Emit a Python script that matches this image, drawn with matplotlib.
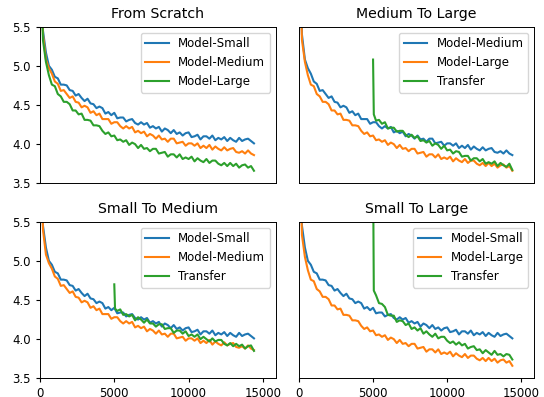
import numpy as np
import matplotlib
matplotlib.use('Agg')
import matplotlib.pyplot as plt

# the reference looks like a scaled-down default figure
plt.rcParams['font.size'] = 8.5
plt.rcParams['axes.titlesize'] = 10.2
plt.rcParams['lines.linewidth'] = 1.5
plt.rcParams['xtick.major.size'] = 3
plt.rcParams['ytick.major.size'] = 3
plt.rcParams['axes.linewidth'] = 0.7

# training steps (logged every 200 steps)
steps = np.arange(0, 14600, 200)
# transfer runs start at step 5000
steps_tr = np.r_[5000, 5050, np.arange(5200, 14600, 200)]

# loss curves
loss_small = [6.90, 5.45, 5.17, 5.00, 4.95, 4.86, 4.84, 4.76, 4.76, 4.75,
              4.69, 4.68, 4.62, 4.64, 4.59, 4.55, 4.58, 4.52, 4.51, 4.46,
              4.48, 4.46, 4.39, 4.41, 4.37, 4.40, 4.33, 4.34, 4.34, 4.29,
              4.31, 4.32, 4.27, 4.25, 4.28, 4.25, 4.27, 4.21, 4.23, 4.20,
              4.22, 4.16, 4.20, 4.18, 4.14, 4.18, 4.13, 4.15, 4.11, 4.14,
              4.15, 4.09, 4.10, 4.12, 4.06, 4.10, 4.10, 4.07, 4.11, 4.05,
              4.08, 4.06, 4.09, 4.04, 4.08, 4.05, 4.03, 4.08, 4.04, 4.06,
              4.07, 4.04, 4.01]

loss_medium = [6.85, 5.40, 5.08, 4.97, 4.90, 4.80, 4.77, 4.68, 4.69, 4.64,
               4.59, 4.61, 4.54, 4.53, 4.47, 4.49, 4.47, 4.40, 4.42, 4.37,
               4.39, 4.32, 4.32, 4.32, 4.26, 4.28, 4.28, 4.23, 4.20, 4.23,
               4.20, 4.22, 4.15, 4.17, 4.14, 4.16, 4.10, 4.13, 4.11, 4.07,
               4.11, 4.06, 4.07, 4.03, 4.07, 4.07, 4.01, 4.02, 4.03, 3.98,
               4.01, 4.01, 3.98, 4.01, 3.95, 3.98, 3.95, 3.99, 3.93, 3.97,
               3.94, 3.92, 3.96, 3.92, 3.94, 3.95, 3.90, 3.89, 3.91, 3.88,
               3.92, 3.88, 3.86]

loss_large = [6.80, 5.33, 5.05, 4.88, 4.76, 4.74, 4.64, 4.61, 4.54, 4.54,
              4.51, 4.43, 4.43, 4.38, 4.39, 4.31, 4.31, 4.30, 4.24, 4.24,
              4.23, 4.17, 4.13, 4.15, 4.10, 4.11, 4.05, 4.06, 4.03, 4.05,
              3.99, 4.02, 4.00, 3.95, 3.99, 3.94, 3.95, 3.91, 3.94, 3.94,
              3.88, 3.89, 3.90, 3.84, 3.87, 3.87, 3.83, 3.87, 3.81, 3.83,
              3.81, 3.84, 3.78, 3.82, 3.79, 3.77, 3.81, 3.76, 3.79, 3.79,
              3.75, 3.73, 3.76, 3.72, 3.76, 3.72, 3.75, 3.70, 3.73, 3.74,
              3.70, 3.72, 3.66]

tr_med_to_large = [5.08, 4.38, 4.30, 4.31, 4.26, 4.28, 4.20, 4.21, 4.21, 4.16,
                   4.17, 4.17, 4.12, 4.09, 4.12, 4.08, 4.10, 4.04, 4.05, 4.02,
                   4.04, 3.98, 4.01, 3.99, 3.94, 3.98, 3.92, 3.93, 3.88, 3.91,
                   3.90, 3.84, 3.85, 3.85, 3.79, 3.82, 3.82, 3.78, 3.81, 3.75,
                   3.77, 3.75, 3.78, 3.72, 3.76, 3.73, 3.71, 3.75, 3.67]

tr_small_to_med = [4.70, 4.39, 4.36, 4.38, 4.31, 4.32, 4.29, 4.31, 4.24, 4.28,
                   4.25, 4.21, 4.25, 4.20, 4.20, 4.16, 4.19, 4.19, 4.13, 4.14,
                   4.14, 4.08, 4.11, 4.11, 4.07, 4.10, 4.04, 4.06, 4.03, 4.06,
                   4.00, 4.03, 4.00, 3.97, 4.01, 3.97, 3.99, 3.99, 3.94, 3.92,
                   3.95, 3.91, 3.94, 3.91, 3.93, 3.88, 3.91, 3.92, 3.85]

tr_small_to_large = [6.20, 4.62, 4.56, 4.46, 4.45, 4.41, 4.31, 4.30, 4.30, 4.22,
                     4.24, 4.23, 4.18, 4.20, 4.13, 4.15, 4.11, 4.14, 4.07, 4.10,
                     4.06, 4.03, 4.07, 4.01, 4.03, 4.03, 3.98, 3.95, 3.97, 3.93,
                     3.96, 3.92, 3.94, 3.88, 3.90, 3.91, 3.86, 3.87, 3.82, 3.86,
                     3.83, 3.80, 3.85, 3.80, 3.81, 3.78, 3.81, 3.80, 3.74]

fig = plt.figure(figsize=(5.44, 3.97), dpi=100)

# axes placed to match the reference layout
ax_tl = fig.add_axes([0.0735, 0.5383, 0.4338, 0.3945])
ax_tr = fig.add_axes([0.5496, 0.5383, 0.4325, 0.3945])
ax_bl = fig.add_axes([0.0735, 0.0471, 0.4338, 0.3945])
ax_br = fig.add_axes([0.5496, 0.0471, 0.4325, 0.3945])

# From Scratch
ax_tl.plot(steps, loss_small, label='Model-Small')
ax_tl.plot(steps, loss_medium, label='Model-Medium')
ax_tl.plot(steps, loss_large, label='Model-Large')
ax_tl.set_title('From Scratch')

# Medium To Large
ax_tr.plot(steps, loss_medium, label='Model-Medium')
ax_tr.plot(steps, loss_large, label='Model-Large')
ax_tr.plot(steps_tr, tr_med_to_large, label='Transfer')
ax_tr.set_title('Medium To Large')

# Small To Medium
ax_bl.plot(steps, loss_small, label='Model-Small')
ax_bl.plot(steps, loss_medium, label='Model-Medium')
ax_bl.plot(steps_tr, tr_small_to_med, label='Transfer')
ax_bl.set_title('Small To Medium')

# Small To Large
ax_br.plot(steps, loss_small, label='Model-Small')
ax_br.plot(steps, loss_large, label='Model-Large')
ax_br.plot(steps_tr, tr_small_to_large, label='Transfer')
ax_br.set_title('Small To Large')

for ax in [ax_tl, ax_tr, ax_bl, ax_br]:
    ax.set_xlim(0, 15880)
    ax.set_ylim(3.5, 5.5)
    ax.set_xticks([0, 5000, 10000, 15000])
    ax.set_yticks([3.5, 4.0, 4.5, 5.0, 5.5])
    ax.legend(loc='upper right')

# shared axes: hide inner tick labels
for ax in [ax_tl, ax_tr]:
    ax.tick_params(bottom=False, labelbottom=False)
for ax in [ax_tr, ax_br]:
    ax.tick_params(left=False, labelleft=False)

plt.savefig('out.png', dpi=100)
